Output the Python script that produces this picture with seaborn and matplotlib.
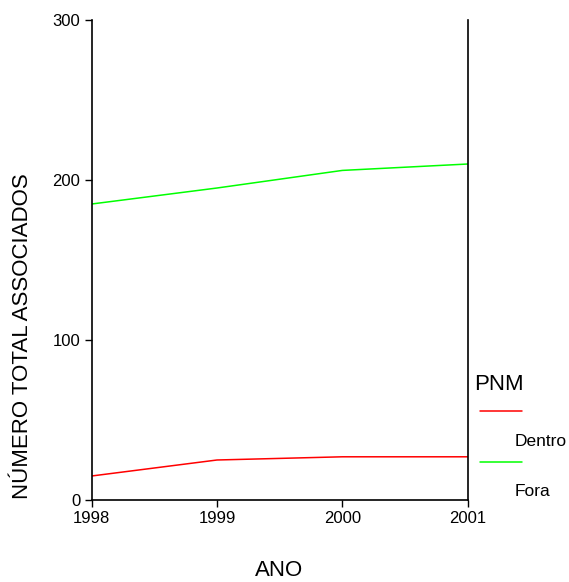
import matplotlib
matplotlib.use("Agg")
import matplotlib.pyplot as plt
from matplotlib.lines import Line2D
import pandas as pd
import seaborn as sns

# Number of associates per year, inside (Dentro) and outside (Fora) the PNM
anos = [1998, 1999, 2000, 2001]
dentro = [15, 25, 27, 27]
fora = [185, 195, 206, 210]
grupos = ["Dentro", "Fora"]
cores = {"Dentro": "#ff0000", "Fora": "#00ff00"}
y_ticks = [0, 100, 200, 300]

df = pd.DataFrame({
    "ANO": anos * 2,
    "total": dentro + fora,
    "PNM": [grupos[0]] * len(anos) + [grupos[1]] * len(anos),
})

sns.set_style("white")
plt.rcParams["font.family"] = ["Liberation Sans", "DejaVu Sans"]
plt.rcParams["text.color"] = "black"

fig = plt.figure(figsize=(5.69, 5.82), dpi=100)
ax = fig.add_axes([0.161, 0.1409, 0.661, 0.8247])

sns.lineplot(data=df, x="ANO", y="total", hue="PNM", palette=cores,
             linewidth=1.1, legend=False, ax=ax)

ax.set_xlim(anos[0], anos[-1])
ax.set_ylim(0, 300)
ax.set_xticks(anos)
ax.set_xticklabels([str(a) for a in anos])
ax.set_yticks(y_ticks)
ax.set_yticklabels([str(v) for v in y_ticks])
ax.set_xlabel("")
ax.set_ylabel("")

for side in ["left", "bottom", "right"]:
    ax.spines[side].set_visible(True)
    ax.spines[side].set_color("black")
    ax.spines[side].set_linewidth(1.2)
ax.spines["top"].set_visible(False)

ax.tick_params(axis="both", direction="out", length=5, width=1.0,
               color="black", labelsize=12, labelcolor="black", pad=3,
               left=True, bottom=True, right=False, top=False)

fig.text(23 / 569, 1 - 336 / 582, "NÚMERO TOTAL ASSOCIADOS", rotation=90,
         ha="center", va="center", fontsize=16, color="black")
fig.text(279 / 569, 1 - 571 / 582, "ANO", ha="center", va="center",
         fontsize=16, color="black")

# Legend block to the right of the axes
fig.text(474 / 569, 1 - 384 / 582, "PNM", ha="left", va="center",
         fontsize=16, color="black")
ys_line = [411, 462]
ys_text = [441, 491]
for g, yl, yt in zip(grupos, ys_line, ys_text):
    fig.add_artist(Line2D([480 / 569, 522 / 569], [1 - yl / 582, 1 - yl / 582],
                          color=cores[g], linewidth=1.1,
                          transform=fig.transFigure))
    fig.text(515 / 569, 1 - yt / 582, g, ha="left", va="center",
             fontsize=12.5, color="black")

fig.savefig("out.png", dpi=100, facecolor="white")
